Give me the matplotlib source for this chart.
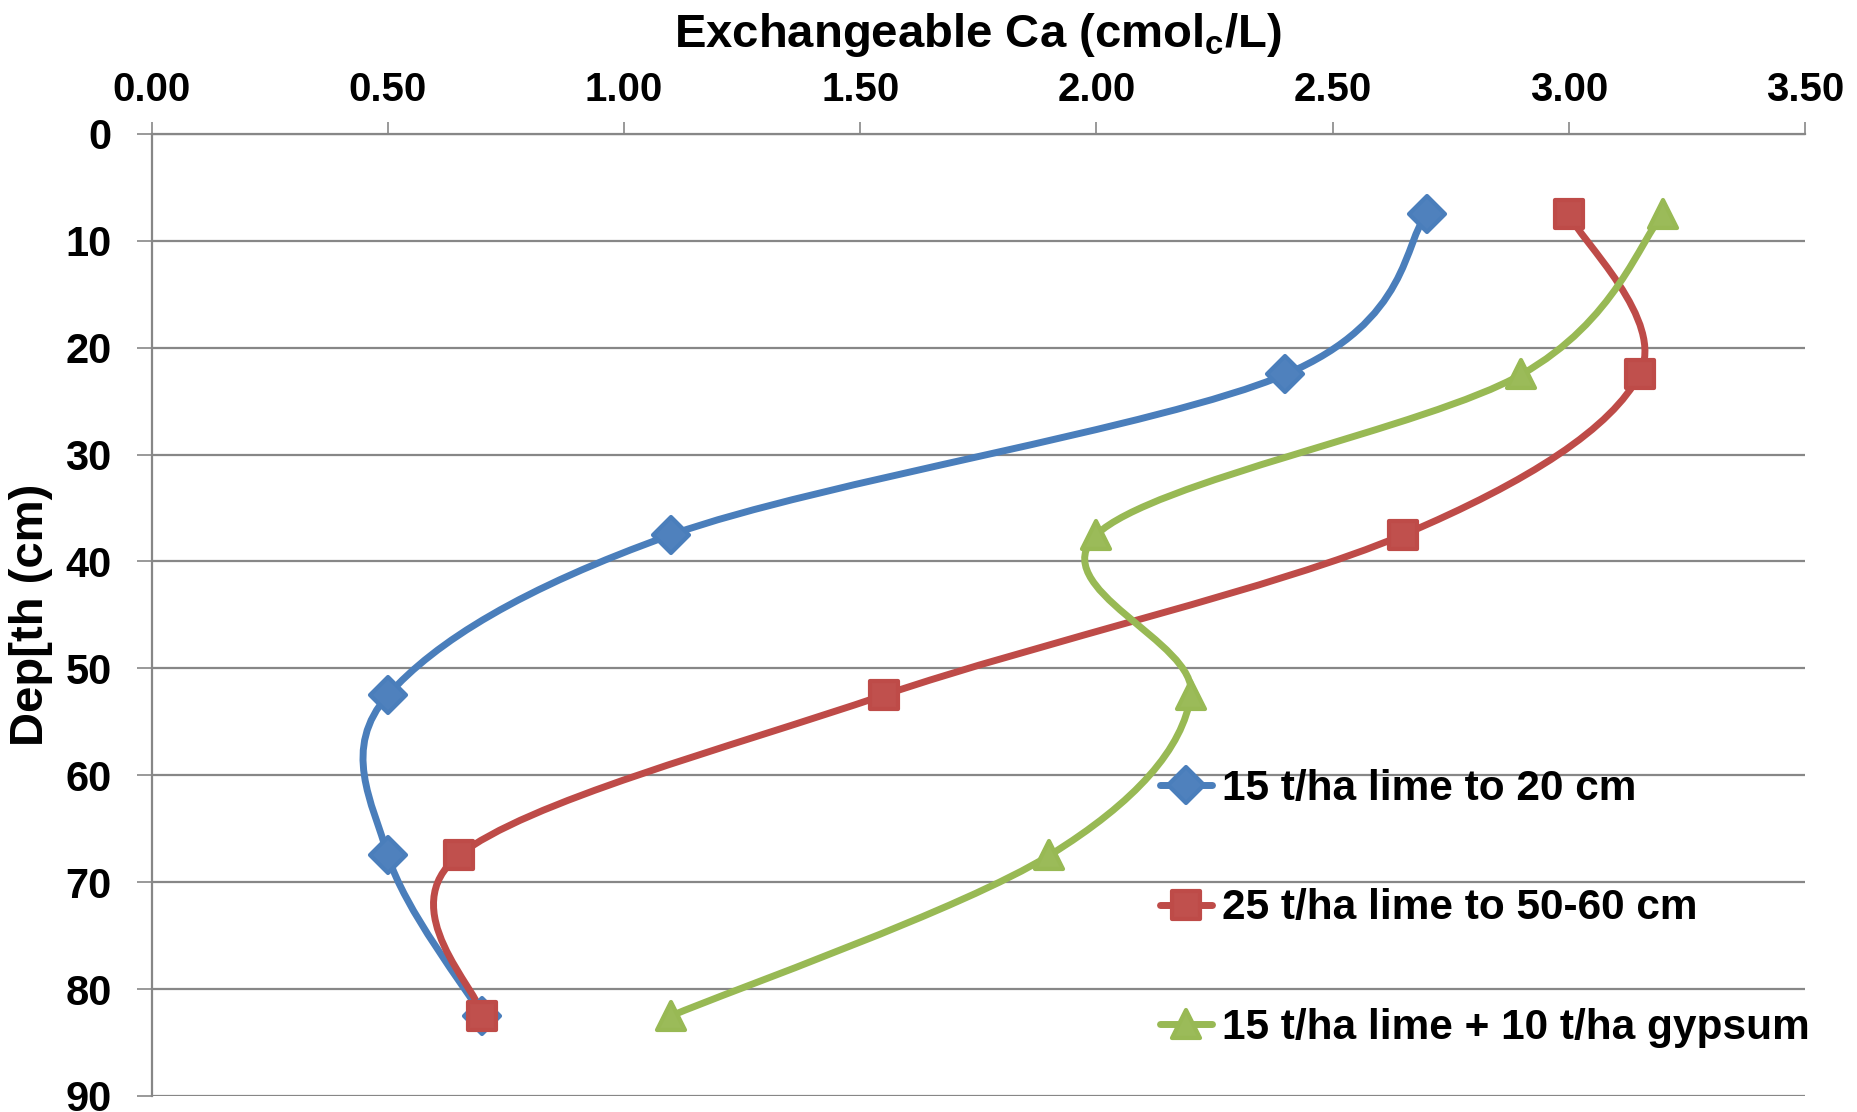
import numpy as np
import matplotlib.pyplot as plt
from matplotlib.path import Path
from matplotlib.patches import PathPatch
from matplotlib.lines import Line2D
from matplotlib.markers import MarkerStyle

# depth of each sample (cm) and exchangeable Ca (cmolc/L) per treatment
depth = [7.5, 22.5, 37.5, 52.5, 67.5, 82.5]
ca_lime20 = [2.70, 2.40, 1.10, 0.50, 0.50, 0.70]
ca_lime50 = [3.00, 3.15, 2.65, 1.55, 0.65, 0.70]
ca_gypsum = [3.20, 2.90, 2.00, 2.20, 1.90, 1.10]
labels = ['15 t/ha lime to 20 cm', '25 t/ha lime to 50-60 cm',
          '15 t/ha lime + 10 t/ha gypsum']
xticks = [0.0, 0.5, 1.0, 1.5, 2.0, 2.5, 3.0, 3.5]
yticks = [0, 10, 20, 30, 40, 50, 60, 70, 80, 90]

line_cols = ['#4A7EBB', '#BE4B48', '#98B954']
fill_cols = ['#4F81BD', '#C0504D', '#9BBB59']
markers = ['D', 's', '^']
msizes = [18, 19.5, 20]
GRID = '#878787'
LW = 5
FONT = 'Liberation Sans'


def smooth_path(xs, ys):
    # excel-style smoothed line: cubic bezier through the points
    p = np.column_stack([xs, ys]).astype(float)
    n = len(p)
    verts = [p[0]]
    codes = [Path.MOVETO]
    for i in range(n - 1):
        prev = p[i - 1] if i > 0 else p[i]
        nxt = p[i + 2] if i + 2 < n else p[i + 1]
        c1 = p[i] + (p[i + 1] - prev) / 6.0
        c2 = p[i + 1] - (nxt - p[i]) / 6.0
        verts += [c1, c2, p[i + 1]]
        codes += [Path.CURVE4] * 3
    return Path(verts, codes)


fig = plt.figure(figsize=(18.58, 11.12), dpi=100)
ax = fig.add_axes([0.0817, 0.0144, 0.8897, 0.8652])

series = [ca_lime20, ca_lime50, ca_gypsum]
handles = []
for k, vals in enumerate(series):
    mk = MarkerStyle(markers[k], joinstyle='round')
    ax.add_patch(PathPatch(smooth_path(vals, depth), fill=False,
                           edgecolor=line_cols[k], lw=LW, capstyle='round',
                           zorder=3))
    ax.plot(vals, depth, linestyle='none', marker=mk,
            markersize=msizes[k], markerfacecolor=fill_cols[k],
            markeredgecolor=line_cols[k], markeredgewidth=3, zorder=4)
    handles.append(Line2D([], [], color=line_cols[k], lw=LW,
                          solid_capstyle='round', marker=mk,
                          markersize=msizes[k], markerfacecolor=fill_cols[k],
                          markeredgecolor=line_cols[k], markeredgewidth=3))

ax.set_xlim(0, 3.5)
ax.set_ylim(90, 0)
ax.set_xticks(xticks)
ax.set_xticklabels(['%.2f' % v for v in xticks])
ax.set_yticks(yticks)
ax.xaxis.tick_top()
ax.xaxis.set_label_position('top')

for s in ['right', 'bottom']:
    ax.spines[s].set_visible(False)
for s in ['top', 'left']:
    ax.spines[s].set_color(GRID)
    ax.spines[s].set_linewidth(1.6)
ax.yaxis.grid(True, color=GRID, lw=1.6)
ax.set_axisbelow(True)

ax.tick_params(axis='x', length=9, width=1.2, color=GRID, pad=9,
               labelsize=29)
ax.tick_params(axis='y', length=11, width=1.2, color=GRID, pad=18,
               labelsize=30)
for t in ax.get_xticklabels() + ax.get_yticklabels():
    t.set_fontfamily(FONT)
    t.set_fontweight('bold')

ax.set_xlabel('Exchangeable Ca (cmol$_\\mathregular{c}$/L)', fontsize=34,
              fontweight='bold', family=FONT, labelpad=17)
ax.set_ylabel('Dep[th (cm)', fontsize=34, fontweight='bold',
              family=FONT, labelpad=9)

leg = fig.legend(handles, labels, loc='upper left',
                 bbox_to_anchor=(0.604, 0.343), frameon=False,
                 prop={'family': FONT, 'weight': 'bold', 'size': 30.5},
                 handlelength=1.23, handletextpad=0.22, labelspacing=1.88)

fig.savefig('out.png', dpi=100)
